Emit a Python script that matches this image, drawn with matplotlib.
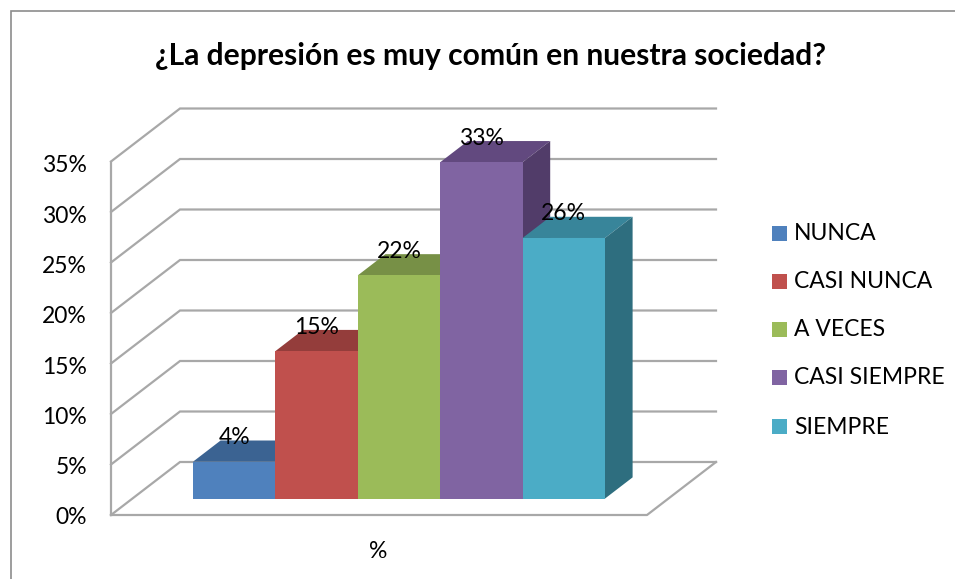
import matplotlib
matplotlib.use("Agg")
import matplotlib.pyplot as plt
from matplotlib.patches import Polygon, Rectangle

categories = ["NUNCA", "CASI NUNCA", "A VECES", "CASI SIEMPRE", "SIEMPRE"]
values = [3.65, 14.6, 22.1, 33.3, 25.8]
labels = ["4%", "15%", "22%", "33%", "26%"]
ticks = [0, 5, 10, 15, 20, 25, 30, 35]
front = ["#4F81BD", "#C0504D", "#9BBB59", "#8064A2", "#4BACC6"]
top = ["#3B6392", "#943D3B", "#779046", "#62497F", "#38859A"]
side = ["#2F5078", "#7A3230", "#62773A", "#513C69", "#2E6E7F"]

W, H = 955, 579
plt.rcParams["font.family"] = ["Lato", "DejaVu Sans"]
fig = plt.figure(figsize=(W / 100, H / 100), dpi=100)
ax = fig.add_axes([0, 0, 1, 1])
ax.set_xlim(0, W)
ax.set_ylim(H, 0)
ax.axis("off")

# scales: category -> pixel, percent -> pixel, plus oblique depth
X0, CW = 193.0, 82.4
Y0, PCT = 515.0, 10.1
DX, DY = 69.0, -53.0
BD0, BD1 = 0.31, 0.71
FL, FR = 111.0, 647.0

def px(x, d=0.0):
    return X0 + x * CW + d * DX - BD0 * DX

def py(v, d=0.0):
    return Y0 - v * PCT + d * DY

grid = "#a8a8a8"
ax.add_patch(Polygon([(10.5, H), (10.5, 10.5), (W, 10.5)], closed=False, fill=False, ec="#8c8c8c", lw=1.2))
for t in ticks:
    ax.plot([FL, FL + DX, FR + DX], [py(t), py(t, 1), py(t, 1)], color=grid, lw=1.6, solid_joinstyle="miter")
    ax.text(87, py(t) + 3 + t * 0.04, f"{t}%", ha="right", va="center", fontsize=16.5, color="black")
ax.plot([FL, FL], [py(0), py(35)], color=grid, lw=1.6)
ax.plot([FL, FR, FR + DX], [py(0), py(0), py(0, 1)], color=grid, lw=1.6)

for i, v in enumerate(values):
    l, r = px(i, BD0), px(i + 1, BD0)
    b, t = py(0, BD0), py(v, BD0)
    dx, dy = (BD1 - BD0) * DX, (BD1 - BD0) * DY
    ax.add_patch(Polygon([(l, t), (r, t), (r + dx, t + dy), (l + dx, t + dy)], fc=top[i], ec="none", zorder=3 + i))
    ax.add_patch(Polygon([(r, b), (r, t), (r + dx, t + dy), (r + dx, b + dy)], fc=side[i], ec="none", zorder=3 + i))
    ax.add_patch(Rectangle((l, t), r - l, b - t, fc=front[i], ec="none", zorder=3 + i))
    ax.text((l + r) / 2, t - 24, labels[i], ha="center", va="center", fontsize=16.5, color="black", zorder=10)

ax.text(490, 56, "¿La depresión es muy común en nuestra sociedad?", ha="center", va="center",
        fontsize=21.6, fontweight="bold", color="black")
ax.text(378, 551, "%", ha="center", va="center", fontsize=16.5, color="black")

leg_y = [233.5, 281.5, 329.5, 377.5, 426.5]
for c, y, col in zip(categories, leg_y, front):
    ax.add_patch(Rectangle((772, y - 7.5), 15, 15, fc=col, ec="none"))
    ax.text(794, y + 0.5, c, ha="left", va="center", fontsize=16.5, color="black")

fig.savefig("out.png", dpi=100, facecolor="white")
